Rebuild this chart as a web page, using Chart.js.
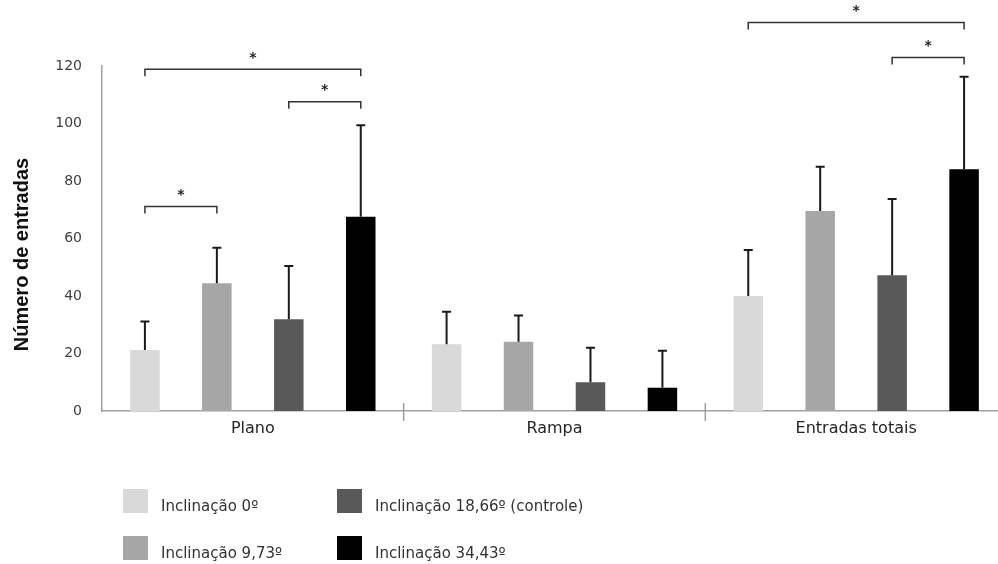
<!DOCTYPE html>
<html>
<head>
<meta charset="utf-8">
<script src="https://cdn.jsdelivr.net/npm/chart.js@4"></script>
<style>
  html, body { margin: 0; padding: 0; background: #ffffff; overflow: hidden; }
  #wrap { position: relative; width: 1010px; height: 564px; }
</style>
</head>
<body>
<div id="wrap"><canvas id="c"></canvas></div>
<script>
// Groups on the x axis
const categories = ['Plano', 'Rampa', 'Entradas totais'];

// Series (inclination of the apparatus)
const seriesNames = ['Inclinação 0º', 'Inclinação 9,73º', 'Inclinação 18,66º (controle)', 'Inclinação 34,43º'];
const seriesColors = ['#d9d9d9', '#a6a6a6', '#595959', '#000000'];

// Mean number of entries per group
const incl0    = [21.2, 23.2, 40.0];
const incl973  = [44.4, 24.1, 69.6];
const incl1866 = [31.9, 10.0, 47.2];
const incl3443 = [67.6,  8.1, 84.1];

// Standard deviation (upper error bar)
const sd0    = [ 9.9, 11.3, 16.0];
const sd973  = [12.4,  9.1, 15.4];
const sd1866 = [18.5, 12.0, 26.5];
const sd3443 = [31.8, 12.9, 32.2];

// Y axis ticks
const yTicks = [0, 20, 40, 60, 80, 100, 120];

// Significant differences: group, first series, second series, bracket height
const brackets = [
  { cat: 0, from: 0, to: 3, level: 118.9 },
  { cat: 0, from: 2, to: 3, level: 107.6 },
  { cat: 0, from: 0, to: 1, level: 71.1 },
  { cat: 2, from: 0, to: 3, level: 135.1 },
  { cat: 2, from: 2, to: 3, level: 123.0 }
];

const means = [incl0, incl973, incl1866, incl3443];
const errors = [sd0, sd973, sd1866, sd3443];

const datasets = seriesNames.map((name, i) => ({
  label: name,
  data: means[i],
  backgroundColor: seriesColors[i],
  borderWidth: 0,
  categoryPercentage: 0.954,
  barPercentage: 0.41
}));

// Error bars, category separators, significance brackets, axis title and legend
const decorations = {
  id: 'decorations',
  afterDatasetsDraw(chart) {
    const ctx = chart.ctx;
    const y = chart.scales.y;
    const x = chart.scales.x;
    ctx.save();

    // upper error bars
    ctx.strokeStyle = '#1a1a1a';
    ctx.lineWidth = 2;
    chart.data.datasets.forEach((ds, i) => {
      const meta = chart.getDatasetMeta(i);
      meta.data.forEach((bar, j) => {
        const top = y.getPixelForValue(ds.data[j] + errors[i][j]);
        const base = y.getPixelForValue(ds.data[j]);
        ctx.beginPath();
        ctx.moveTo(bar.x, base);
        ctx.lineTo(bar.x, top);
        ctx.moveTo(bar.x - 4.5, top);
        ctx.lineTo(bar.x + 4.5, top);
        ctx.stroke();
      });
    });

    // tick marks between groups
    ctx.strokeStyle = '#a0a0a0';
    ctx.lineWidth = 1.5;
    for (let i = 1; i < categories.length; i++) {
      const px = (x.getPixelForValue(i - 1) + x.getPixelForValue(i)) / 2;
      ctx.beginPath();
      ctx.moveTo(px, y.bottom - 8);
      ctx.lineTo(px, y.bottom + 10);
      ctx.stroke();
    }

    // significance brackets
    ctx.strokeStyle = '#333333';
    ctx.lineWidth = 1.5;
    ctx.fillStyle = '#222222';
    ctx.font = 'bold 14px "DejaVu Sans"';
    ctx.textAlign = 'center';
    ctx.textBaseline = 'middle';
    brackets.forEach(b => {
      const x1 = chart.getDatasetMeta(b.from).data[b.cat].x;
      const x2 = chart.getDatasetMeta(b.to).data[b.cat].x;
      const py = y.getPixelForValue(b.level);
      ctx.beginPath();
      ctx.moveTo(x1, py + 7);
      ctx.lineTo(x1, py);
      ctx.lineTo(x2, py);
      ctx.lineTo(x2, py + 7);
      ctx.stroke();
      ctx.fillText('*', (x1 + x2) / 2, py - 11);
    });
    ctx.restore();
  },
  afterDraw(chart) {
    const ctx = chart.ctx;
    const y = chart.scales.y;
    ctx.save();

    // y axis title
    ctx.translate(22, (y.top + y.bottom) / 2 + 16);
    ctx.rotate(-Math.PI / 2);
    ctx.font = 'bold 20px "Liberation Sans"';
    ctx.fillStyle = '#111111';
    ctx.textAlign = 'center';
    ctx.textBaseline = 'middle';
    ctx.fillText('Número de entradas', 0, 0);
    ctx.setTransform(1, 0, 0, 1, 0, 0);

    // legend in two columns
    const cols = [123, 337];
    const rows = [489, 536];
    ctx.font = '15px "DejaVu Sans"';
    ctx.textAlign = 'left';
    ctx.textBaseline = 'middle';
    chart.data.datasets.forEach((ds, i) => {
      const bx = cols[Math.floor(i / 2)];
      const by = rows[i % 2];
      ctx.fillStyle = ds.backgroundColor;
      ctx.fillRect(bx, by, 25, 24);
      ctx.fillStyle = '#333333';
      ctx.fillText(ds.label, bx + 38, by + 18);
    });
    ctx.restore();
  }
};

new Chart(document.getElementById('c'), {
  type: 'bar',
  data: { labels: categories, datasets: datasets },
  options: {
    responsive: true,
    maintainAspectRatio: false,
    animation: false,
    layout: { padding: { top: 66, left: 0, right: 3, bottom: 0 } },
    plugins: {
      legend: { display: false },
      tooltip: { enabled: false }
    },
    scales: {
      x: {
        grid: { display: false, drawTicks: false },
        border: { display: true, color: '#a0a0a0', width: 1.5 },
        ticks: {
          color: '#262626',
          font: { family: 'DejaVu Sans', size: 16 },
          padding: 8
        },
        afterFit(scale) { scale.height = 153; }
      },
      y: {
        min: 0,
        max: 120,
        grid: { display: false, drawTicks: false },
        border: { display: true, color: '#a0a0a0', width: 1.5 },
        afterBuildTicks(scale) { scale.ticks = yTicks.map(v => ({ value: v })); },
        ticks: {
          color: '#404040',
          font: { family: 'DejaVu Sans', size: 14 },
          padding: 20
        },
        afterFit(scale) { scale.width = 102; }
      }
    }
  },
  plugins: [decorations]
});
</script>
</body>
</html>
